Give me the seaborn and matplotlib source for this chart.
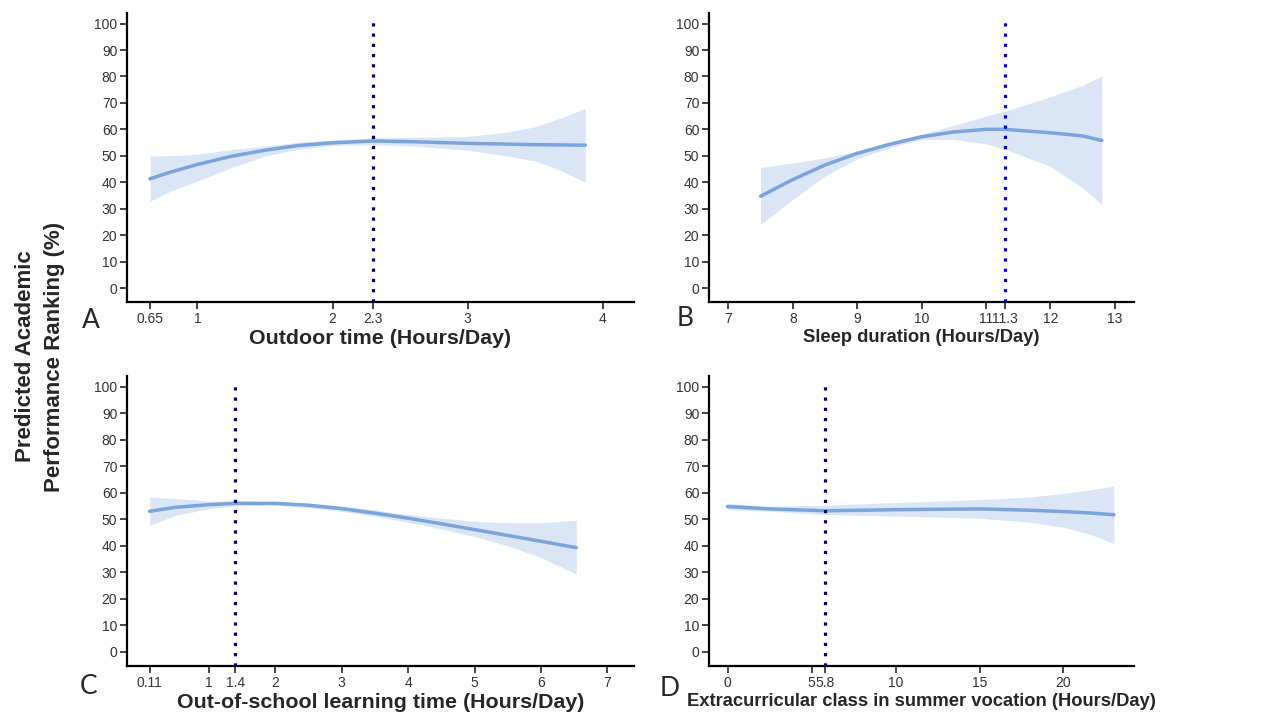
import pandas as pd
import matplotlib
matplotlib.use("Agg")
import matplotlib.pyplot as plt
import seaborn as sns

# ---- data (predicted ranking with 95% CI) ----
outdoor_x = [0.65, 0.8, 1.0, 1.25, 1.5, 1.75, 2.0, 2.3, 2.6, 3.0, 3.3, 3.5, 3.7, 3.87]
outdoor_y = [41.3, 43.8, 46.7, 49.8, 52.1, 53.9, 54.9, 55.6, 55.3, 54.7, 54.4, 54.2, 54.1, 54.0]
outdoor_lo = [32.8, 36.6, 40.4, 45.5, 49.9, 52.5, 53.9, 54.2, 53.7, 52.1, 49.9, 48.0, 44.2, 40.0]
outdoor_hi = [49.9, 50.0, 50.6, 52.3, 53.7, 55.1, 56.0, 56.7, 57.0, 57.3, 59.0, 61.0, 64.5, 68.0]

sleep_x = [7.5, 8.0, 8.5, 9.0, 9.5, 10.0, 10.5, 11.0, 11.3, 12.0, 12.5, 12.8]
sleep_y = [34.7, 41.0, 46.5, 50.9, 54.3, 57.2, 59.0, 60.0, 60.0, 58.7, 57.5, 55.8]
sleep_lo = [24.0, 33.5, 42.3, 48.9, 53.0, 56.2, 56.2, 54.5, 52.4, 46.0, 37.9, 31.6]
sleep_hi = [45.5, 47.3, 49.2, 51.8, 55.2, 58.1, 61.5, 65.0, 66.9, 72.3, 76.6, 80.2]

study_x = [0.11, 0.5, 1.0, 1.4, 2.0, 2.5, 3.0, 3.5, 4.0, 4.5, 5.0, 5.5, 6.0, 6.53]
study_y = [53.0, 54.5, 55.5, 56.0, 56.0, 55.3, 54.0, 52.3, 50.4, 48.3, 46.1, 43.9, 41.7, 39.3]
study_lo = [47.7, 51.5, 54.0, 55.0, 55.3, 54.4, 53.0, 51.1, 48.9, 46.4, 43.5, 40.0, 35.6, 29.3]
study_hi = [58.4, 57.8, 56.9, 56.9, 56.5, 55.9, 55.0, 53.5, 51.8, 50.4, 49.2, 48.7, 48.7, 49.6]

summer_x = [0, 2.5, 5.8, 10, 15, 18, 20, 21.5, 23]
summer_y = [54.8, 53.9, 53.2, 53.6, 53.9, 53.4, 52.9, 52.4, 51.7]
summer_lo = [53.7, 53.0, 51.8, 51.2, 50.4, 48.9, 47.0, 44.5, 40.9]
summer_hi = [55.9, 54.9, 55.3, 56.3, 57.4, 58.4, 59.7, 61.0, 62.5]

panels = [
    dict(letter="A", x=outdoor_x, y=outdoor_y, lo=outdoor_lo, hi=outdoor_hi,
         xlabel="Outdoor time (Hours/Day)", xlabel_size=15.4,
         ticks=[0.65, 1, 2, 2.3, 3, 4],
         ticklabels=["0.65", "1", "2", "2.3", "3", "4"], xlim=(0.48, 4.23),
         cut=2.3, cut_color="#000080", letter_pos=(91, 320)),
    dict(letter="B", x=sleep_x, y=sleep_y, lo=sleep_lo, hi=sleep_hi,
         xlabel="Sleep duration (Hours/Day)", xlabel_size=13.2,
         ticks=[7, 8, 9, 10, 11, 11.3, 12, 13],
         ticklabels=["7", "8", "9", "10", "11", "11.3", "12", "13"], xlim=(6.7, 13.3),
         cut=11.3, cut_color="#0000ff", letter_pos=(685, 319)),
    dict(letter="C", x=study_x, y=study_y, lo=study_lo, hi=study_hi,
         xlabel="Out-of-school learning time (Hours/Day)", xlabel_size=15.4,
         ticks=[0.11, 1, 1.4, 2, 3, 4, 5, 6, 7],
         ticklabels=["0.11", "1", "1.4", "2", "3", "4", "5", "6", "7"], xlim=(-0.23, 7.4),
         cut=1.4, cut_color="#000080", letter_pos=(89, 686)),
    dict(letter="D", x=summer_x, y=summer_y, lo=summer_lo, hi=summer_hi,
         xlabel="Extracurricular class in summer vocation (Hours/Day)", xlabel_size=13.2,
         ticks=[0, 5, 5.8, 10, 15, 20],
         ticklabels=["0", "5", "5.8", "10", "15", "20"], xlim=(-1.1, 24.2),
         cut=5.8, cut_color="#000080", letter_pos=(670, 688)),
]

sns.set_style("ticks")
plt.rcParams["font.family"] = ["Liberation Sans", "DejaVu Sans"]

line_color = "#7ba3dc"
band_color = "#dae6f5"
W, H = 1263, 713

fig = plt.figure(figsize=(12.63, 7.13), dpi=100)
boxes = [
    [0.1006, 0.5764, 0.4014, 0.4054],
    [0.5614, 0.5764, 0.3365, 0.4054],
    [0.1006, 0.0659, 0.4014, 0.4068],
    [0.5614, 0.0659, 0.3365, 0.4068],
]

for box, p in zip(boxes, panels):
    ax = fig.add_axes(box)
    df = pd.DataFrame({"x": p["x"], "y": p["y"], "lo": p["lo"], "hi": p["hi"]})
    ax.fill_between(df.x, df.lo, df.hi, color=band_color, lw=0, zorder=1)
    sns.lineplot(data=df, x="x", y="y", ax=ax, color=line_color, lw=2.5, zorder=2)
    ax.plot([p["cut"], p["cut"]], [-5.3, 102], color=p["cut_color"], lw=2.3,
            linestyle=(0, (1, 2.2)), dash_capstyle="butt", zorder=3)

    ax.set_xlim(*p["xlim"])
    ax.set_ylim(-5.3, 104)
    ax.set_yticks(range(0, 101, 10))
    ax.set_xticks(p["ticks"])
    ax.set_xticklabels(p["ticklabels"])
    ax.tick_params(labelsize=10, labelcolor="#333333", length=5, width=1.2, pad=2)
    for s in ["top", "right"]:
        ax.spines[s].set_visible(False)
    for s in ["left", "bottom"]:
        ax.spines[s].set_linewidth(1.6)
        ax.spines[s].set_color("black")
    ax.set_xlabel(p["xlabel"], fontsize=p["xlabel_size"], fontweight="bold", labelpad=2)
    ax.set_ylabel("")
    lx, ly = p["letter_pos"]
    fig.text(lx / W, 1 - ly / H, p["letter"], fontsize=19,
             family=["Lato", "DejaVu Sans"], va="center", ha="center")

fig.text(0.032, 0.5, "Predicted Academic\nPerformance Ranking (%)", rotation=90,
         fontsize=16, fontweight="bold", ha="center", va="center", linespacing=1.5)

fig.savefig("out.png", dpi=100)
